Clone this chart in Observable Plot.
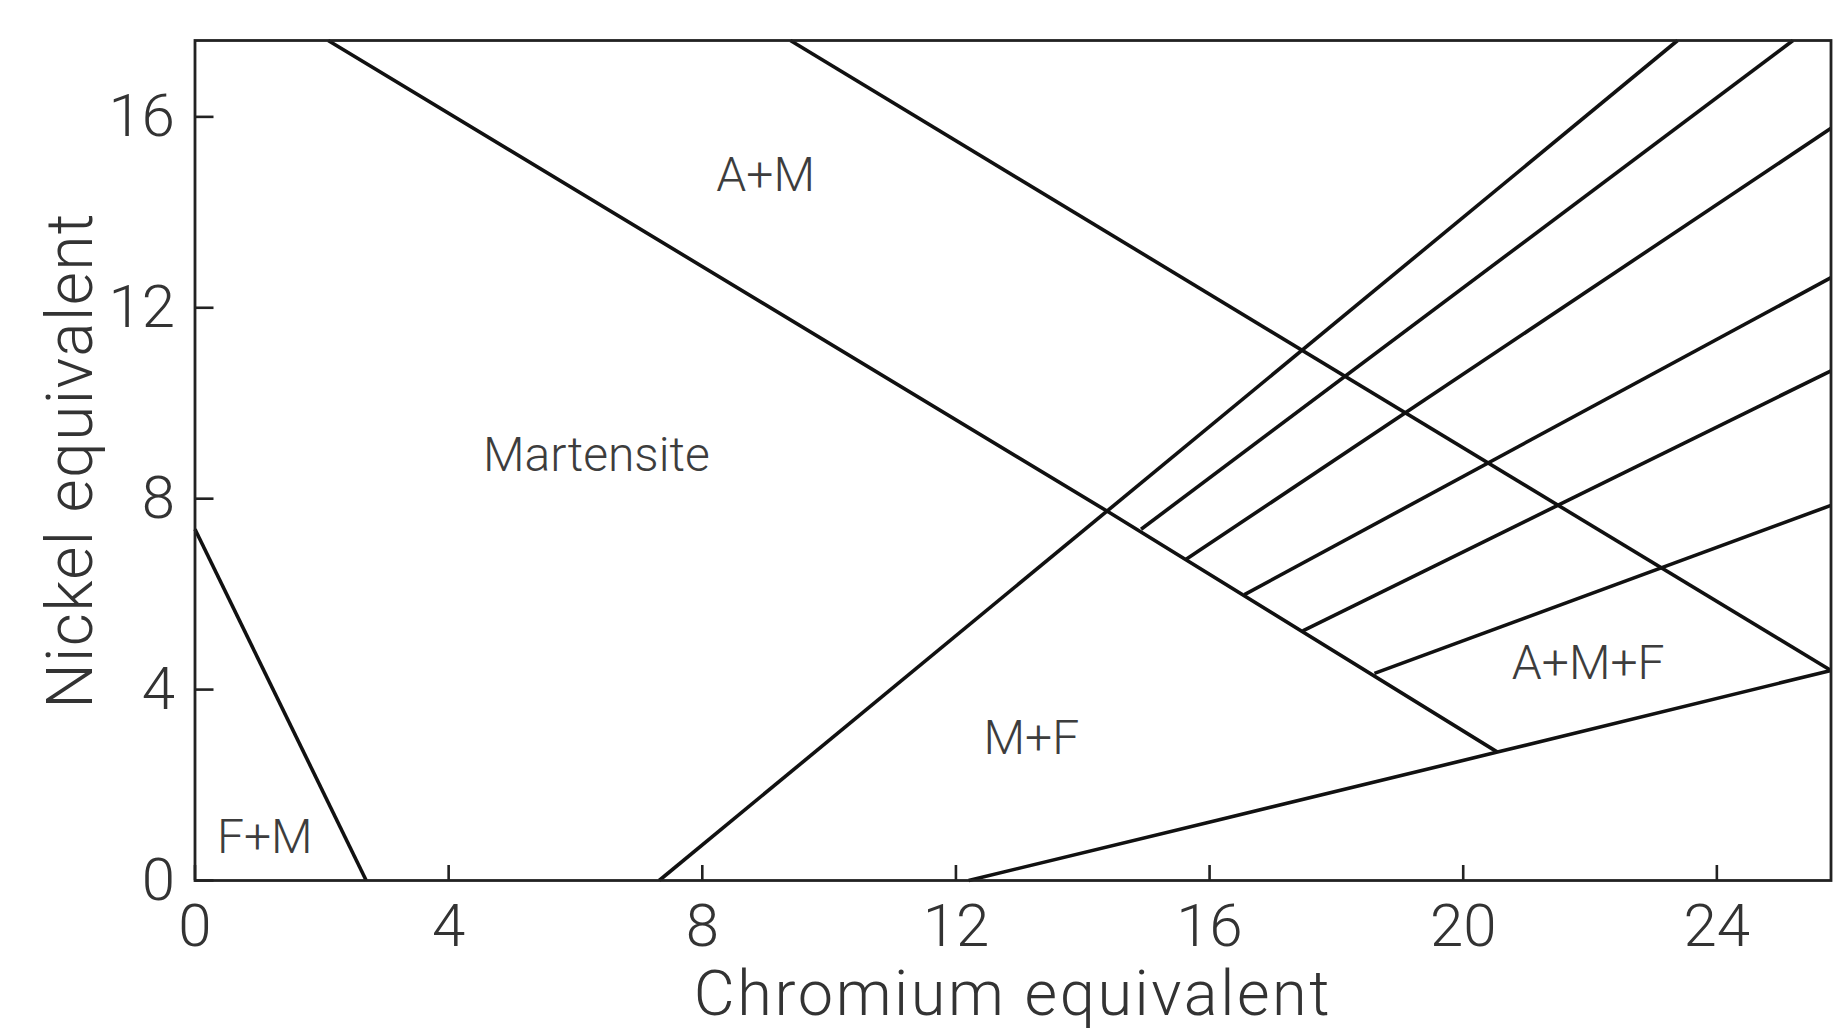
<!DOCTYPE html>
<html>
<head>
<meta charset="utf-8">
<script src="https://cdn.jsdelivr.net/npm/d3@7"></script>
<script src="https://cdn.jsdelivr.net/npm/@observablehq/plot@0.6"></script>
<style>
  html, body { margin: 0; padding: 0; background: #fff; }
  #chart svg { display: block; }
  .xtitle text { letter-spacing: 2.6px; }
  .ytitle text { letter-spacing: 1.4px; }
</style>
</head>
<body>
<div id="chart"></div>
<script>
// ---- axis ticks and domains ----
const xTicks = [0, 4, 8, 12, 16, 20, 24];
const yTicks = [0, 4, 8, 12, 16];
const xDomain = [0, 25.8];
const yDomain = [0, 17.6];
const xTitle = "Chromium equivalent";
const yTitle = "Nickel equivalent";

// ---- phase boundary lines: [Cr eq, Ni eq] points ----
const lineFM = [[0, 7.36], [2.7, 0]];
const lineMartensite = [[2.1, 17.6], [14.42, 7.71], [20.54, 2.69]];
const lineAustenite = [[9.39, 17.6], [25.8, 4.40]];
const lineMF = [[7.32, 0], [23.38, 17.6]];
const lineFerrite = [[12.2, 0], [16.17, 1.28], [20.54, 2.69], [25.8, 4.40]];

// ---- tie lines in the A+M+F fan ----
const tie1 = [[14.92, 7.36], [25.2, 17.6]];
const tie2 = [[15.63, 6.73], [25.8, 15.76]];
const tie3 = [[16.55, 5.99], [25.8, 12.63]];
const tie4 = [[17.47, 5.23], [25.8, 10.68]];
const tie5 = [[18.6, 4.34], [25.8, 7.86]];

// ---- region labels ----
const regionNames = ["A+M", "Martensite", "M+F", "A+M+F", "F+M"];
const regionX = [9.0, 6.33, 13.19, 21.97, 1.1];
const regionY = [14.76, 8.9, 2.98, 4.55, 0.89];

// ---- build tables ----
const series = {lineFM, lineMartensite, lineAustenite, lineMF, lineFerrite, tie1, tie2, tie3, tie4, tie5};
const lineRows = Object.entries(series).flatMap(([id, pts]) =>
  pts.map(([x, y]) => ({id, x, y}))
);
const labelRows = regionNames.map((name, i) => ({name, x: regionX[i], y: regionY[i]}));

const FONT = "Roboto, 'Open Sans', 'DejaVu Sans', sans-serif";

const chart = Plot.plot({
  width: 1841,
  height: 1030,
  marginLeft: 194.5,
  marginRight: 10.5,
  marginTop: 40,
  marginBottom: 150,
  style: {fontFamily: FONT, fontWeight: 300, background: "#fff", color: "#333"},
  x: {domain: xDomain, label: null},
  y: {domain: yDomain, label: null},
  marks: [
    Plot.line(lineRows, {x: "x", y: "y", z: "id", stroke: "#111", strokeWidth: 3.6, strokeLinecap: "butt"}),
    Plot.frame({stroke: "#222", strokeWidth: 2.8}),
    Plot.axisX(xTicks, {
      tickSize: -15, tickPadding: 38, fontSize: 60, stroke: "#222", strokeWidth: 2.6,
      fill: "#333", label: null
    }),
    Plot.axisY(yTicks, {
      tickSize: -19, tickPadding: 39, fontSize: 60, stroke: "#222", strokeWidth: 2.6,
      fill: "#333", label: null
    }),
    Plot.text(labelRows, {
      x: "x", y: "y", text: "name", fontSize: 48, fill: "#3d3d3d",
      fontWeight: 300, textAnchor: "middle"
    }),
    Plot.text([xTitle], {
      text: d => d, frameAnchor: "bottom", textAnchor: "middle", lineAnchor: "middle",
      dy: 114, fontSize: 63, fill: "#333", className: "xtitle"
    }),
    Plot.text([yTitle], {
      text: d => d, frameAnchor: "left", textAnchor: "middle", lineAnchor: "middle",
      dx: -123, rotate: -90, fontSize: 64, fill: "#333", className: "ytitle"
    })
  ]
});

document.getElementById("chart").appendChild(chart);
</script>
</body>
</html>
